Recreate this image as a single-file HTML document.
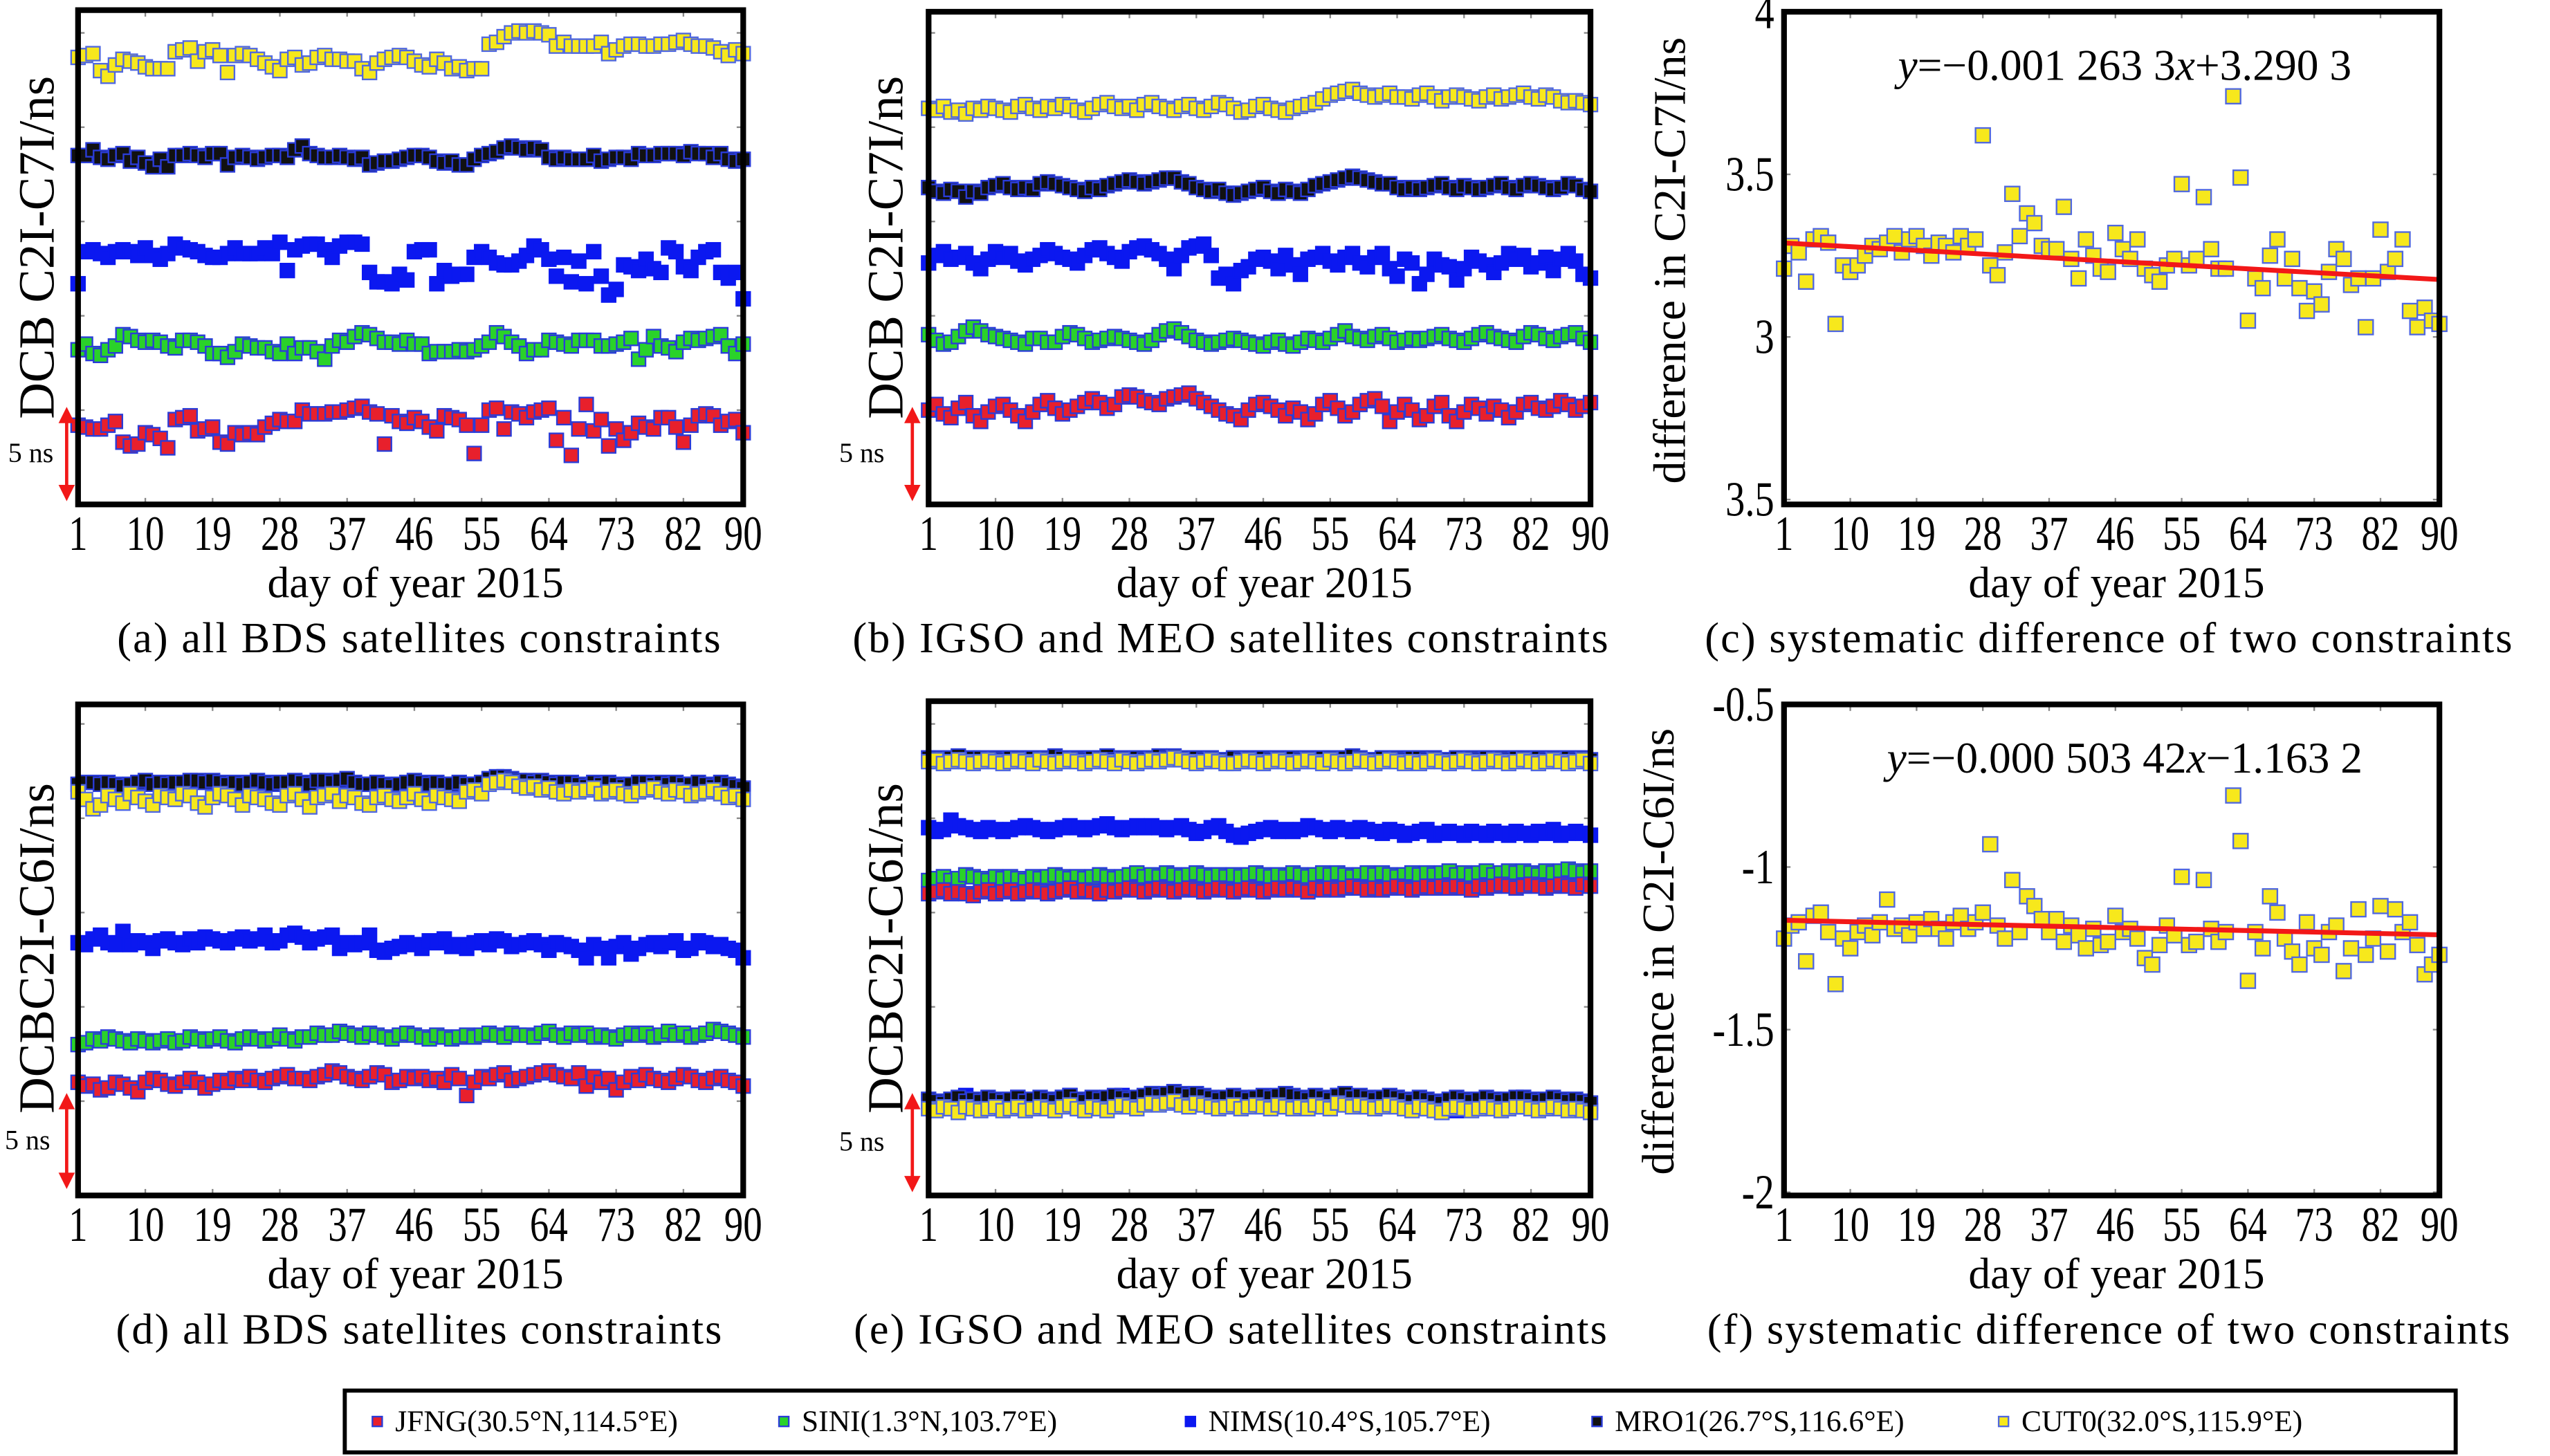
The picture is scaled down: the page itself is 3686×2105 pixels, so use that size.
<!DOCTYPE html>
<html><head><meta charset="utf-8"><style>
html,body{margin:0;padding:0;background:#fff}
svg{display:block}
text{font-family:"Liberation Serif",serif;fill:#000}
</style></head>
<body>
<svg id="fig" xmlns="http://www.w3.org/2000/svg" width="3686" height="2105" viewBox="0 0 1568 895">
<rect x="0" y="0" width="1568" height="895" fill="#fff"/>
<g id="root"></g>
</svg>
<script>
// ---------- data (DCB in units of 0.1 ns, day-of-year 1..90) ----------
const days = Array.from({length:90},(_,i)=>i+1);
const xTickLabels = [1,10,19,28,37,46,55,64,73,82,90];

const aYellow=[237,238,239,230,227,233,236,235,234,232,231,231,231,240,241,242,235,240,241,238,229,238,239,238,236,234,232,230,236,237,233,234,237,238,236,236,235,235,231,229,234,236,237,238,237,235,233,232,236,234,231,232,230,231,231,244,245,248,250,251,250,251,250,249,243,245,243,243,243,243,245,239,241,243,244,244,243,243,244,244,245,246,244,243,243,242,240,238,241,239];
const aBlack=[185,185,188,184,183,185,186,182,184,181,179,183,179,185,185,186,185,184,186,186,180,184,185,184,183,184,185,185,184,188,190,186,185,184,184,185,184,183,184,180,181,182,182,183,184,185,185,184,182,181,182,180,180,183,185,186,187,189,190,189,188,189,188,184,183,184,183,183,183,185,182,183,184,184,183,186,185,185,186,186,186,185,187,186,186,184,186,183,182,183];
const aBlue=[117,134,135,133,131,134,135,134,132,136,132,130,133,138,136,135,134,132,131,131,133,136,133,133,133,136,133,139,124,135,137,138,138,135,131,137,139,139,138,123,118,118,117,122,119,134,135,135,117,124,121,122,122,131,134,131,128,127,127,129,132,137,135,130,121,131,118,129,117,134,121,111,114,127,126,124,130,125,123,136,134,126,124,131,134,135,123,120,123,109];
const aGreen=[82,85,80,79,82,84,90,89,87,86,87,86,84,83,87,87,86,84,80,80,78,81,85,84,83,83,81,80,85,80,83,83,81,77,84,87,86,89,91,90,88,86,86,85,87,85,85,80,81,81,81,82,81,82,84,86,91,89,86,84,80,82,82,87,86,85,84,87,87,87,84,84,85,86,88,77,82,89,84,83,81,86,88,87,88,89,90,84,80,85];
const aRed=[42,41,40,40,42,44,33,31,32,38,37,35,30,45,46,47,39,40,41,33,32,38,37,38,37,41,43,45,44,44,50,48,48,48,49,49,50,51,52,49,48,32,47,44,43,46,44,41,39,47,46,45,42,27,42,50,51,40,49,48,46,49,50,51,34,46,26,40,53,39,45,31,40,34,38,43,41,40,46,46,41,33,42,47,48,47,42,44,45,38];

const bYellow=[210,209,211,208,209,207,210,209,211,210,209,208,211,212,210,209,211,210,212,211,209,208,210,212,213,211,210,211,209,212,213,211,210,209,211,212,210,209,211,213,212,210,208,209,211,212,210,209,208,210,211,212,213,215,217,218,219,220,218,217,216,217,218,216,216,215,217,218,216,214,216,217,216,215,214,216,217,215,216,217,218,216,215,217,216,214,213,214,213,212];
const bBlack=[168,166,165,167,166,163,166,165,168,169,170,168,167,168,167,170,171,170,169,168,167,166,168,167,169,170,171,172,171,170,171,172,173,173,171,170,168,167,166,167,165,164,165,166,167,168,166,165,167,166,165,167,169,170,171,172,173,174,173,172,171,170,170,168,167,168,167,168,169,170,168,167,169,168,167,168,169,170,168,167,169,170,169,168,167,168,170,169,167,166];
const bBlue=[128,132,134,130,131,133,128,125,130,134,131,133,129,127,130,132,135,133,131,130,128,132,135,136,133,131,129,134,136,137,135,133,130,125,132,136,137,138,132,120,122,117,124,126,130,131,129,125,132,127,122,130,131,133,129,127,131,133,128,126,131,133,125,121,130,128,117,122,130,127,126,119,125,131,129,127,123,128,133,130,132,126,128,131,124,130,133,129,122,120];
const bGreen=[90,87,85,86,89,92,94,92,90,89,88,87,86,85,88,88,86,86,89,91,90,88,86,87,88,89,88,87,86,85,87,90,92,93,91,89,87,86,85,86,87,88,87,86,85,84,86,87,85,84,86,88,87,86,88,90,92,89,88,87,89,90,88,86,87,88,87,88,89,90,88,87,86,88,90,91,89,88,87,86,89,91,90,88,87,89,90,91,88,86];
const bRed=[50,53,48,46,51,54,47,44,49,52,53,50,47,44,49,53,55,51,48,50,52,54,56,54,51,53,57,58,57,55,54,53,56,57,58,59,56,54,52,50,48,47,45,50,53,54,52,50,47,51,49,45,48,53,55,51,47,49,53,55,56,52,44,49,53,50,45,47,52,54,47,44,49,53,51,48,52,50,46,49,53,54,51,50,52,55,53,50,52,54];

const dYellow=[214,210,205,207,212,210,208,213,211,209,207,212,211,210,213,212,208,206,211,213,212,210,207,212,211,210,208,207,212,213,210,206,211,212,213,209,212,211,208,207,211,212,210,209,211,213,210,208,212,211,210,209,214,215,213,218,219,220,219,217,216,217,215,216,214,213,215,214,215,216,213,214,215,213,212,214,215,216,214,213,215,214,212,213,214,215,213,211,212,210];
const dBlack=[218,219,219,218,219,218,217,218,219,220,218,219,218,219,219,220,220,219,220,219,218,219,218,219,220,219,218,219,219,220,219,218,220,220,219,220,221,219,218,218,219,218,217,218,219,220,219,218,219,218,218,219,218,218,219,221,222,222,221,220,220,219,220,219,218,219,219,218,217,219,218,219,218,217,218,219,219,218,219,218,219,218,218,219,218,217,219,218,217,216];
const dBlue=[134,133,136,138,134,133,140,133,135,134,131,135,136,134,133,136,134,137,136,135,134,136,137,135,136,138,134,135,138,139,137,134,136,137,138,131,134,133,134,138,130,129,131,132,134,133,131,135,134,136,132,133,131,134,135,133,136,135,132,133,134,135,133,130,134,133,132,130,126,133,131,126,132,134,128,131,133,134,132,134,135,130,131,135,134,132,133,131,130,126];
const dGreen=[80,81,83,82,84,83,82,81,83,82,81,82,83,81,82,84,83,82,83,84,82,81,83,84,83,82,83,85,83,82,84,84,86,85,85,87,86,85,84,86,85,84,83,85,86,85,84,83,85,84,83,84,85,84,85,86,85,84,86,85,85,84,86,87,85,84,86,85,86,84,85,84,83,85,86,85,86,84,85,87,85,86,84,85,86,88,87,86,85,84];
const dRed=[60,58,59,56,57,60,59,57,55,60,62,61,59,58,60,62,60,57,59,61,60,62,61,63,61,60,62,63,64,62,62,61,63,64,66,65,63,62,61,63,65,64,60,61,63,62,63,61,62,60,64,62,53,60,63,62,64,65,61,62,63,64,65,66,64,63,62,65,58,63,60,62,56,60,63,61,64,62,61,60,62,64,63,61,60,62,63,61,60,58];

const eYellowTop=[230,231,229,230,231,230,229,230,231,230,229,230,231,230,229,231,230,229,230,231,230,229,230,231,230,229,231,230,229,230,231,230,231,232,231,230,229,230,231,230,229,229,230,231,230,229,230,231,230,229,230,231,230,229,231,230,229,230,231,230,229,230,231,230,229,230,229,230,231,230,229,230,231,230,229,230,231,230,229,230,231,230,229,230,231,230,229,230,231,229];
const eBlackTop=[232,232,231,232,233,231,232,232,231,232,231,232,232,231,232,231,232,233,232,231,232,231,232,232,233,231,232,231,232,231,232,233,232,233,232,231,232,231,232,231,231,232,231,232,231,232,231,232,231,232,231,232,231,232,232,231,232,233,232,231,231,232,231,232,231,232,232,231,232,231,231,232,231,232,231,232,231,232,231,232,232,231,232,231,232,231,232,231,232,231];
const eBlue=[195,193,194,199,196,195,194,193,195,194,193,194,195,196,195,194,193,194,195,196,195,194,195,196,197,195,194,195,196,195,196,195,194,195,196,194,192,193,195,196,193,191,190,192,193,194,195,193,194,193,194,196,195,194,193,195,194,193,195,194,193,192,194,193,191,192,193,194,191,192,193,192,191,193,192,191,193,192,191,193,192,191,193,192,194,191,192,193,192,191];
const eGreen=[167,168,169,167,168,170,169,168,167,169,168,169,168,167,169,168,169,170,169,168,169,168,169,170,169,168,169,170,171,169,170,169,171,170,169,170,171,170,169,170,169,170,169,170,171,170,169,170,169,171,170,169,170,171,170,171,170,169,170,171,170,171,170,169,170,171,170,171,170,171,172,170,171,170,171,172,170,171,172,171,172,171,170,172,171,172,173,172,171,172];
const eRed=[160,161,162,160,161,160,159,161,162,160,161,162,160,161,162,161,160,161,162,163,161,162,161,160,162,161,162,163,162,161,162,163,162,161,162,163,162,161,162,163,162,161,162,163,162,161,162,163,162,163,162,161,163,162,163,162,163,164,163,162,163,162,163,164,163,162,163,164,163,164,163,164,163,162,164,163,164,165,164,163,164,165,164,163,164,165,164,163,165,164];
const eBlueBot=[50,48,46,50,49,53,48,47,51,49,48,50,52,49,47,50,51,49,52,53,50,48,51,50,49,52,53,51,50,52,54,52,53,55,52,51,53,52,50,49,51,50,48,51,52,50,49,52,53,50,51,49,52,50,48,53,51,49,52,50,47,49,50,52,48,47,51,46,49,44,47,45,50,48,46,49,51,47,48,50,52,49,47,50,51,48,49,47,48,45];
const eBlackBot=[51,50,49,51,52,50,51,50,52,51,50,51,52,50,51,52,51,50,52,53,51,50,52,51,52,53,52,51,52,53,54,53,54,55,54,53,54,53,52,51,52,53,52,51,52,53,52,53,54,53,52,51,53,52,51,53,54,52,53,52,51,52,53,52,51,50,52,51,50,49,51,52,51,50,51,52,51,50,51,52,52,51,50,51,52,51,50,51,50,49];
const eYellowBot=[46,45,47,46,44,47,46,45,46,47,45,46,47,45,46,47,46,45,47,48,46,45,47,46,45,47,48,47,46,48,49,48,49,50,48,47,49,48,47,46,47,48,46,47,48,47,46,48,47,46,47,46,48,47,46,49,48,47,48,47,46,47,48,47,46,45,47,46,45,44,46,47,46,45,46,47,46,45,46,47,47,46,45,46,47,46,45,46,45,44];

const cDiff=[3.21,3.28,3.26,3.17,3.30,3.31,3.29,3.04,3.22,3.20,3.22,3.25,3.28,3.27,3.29,3.31,3.26,3.30,3.31,3.28,3.25,3.29,3.28,3.26,3.31,3.28,3.30,3.62,3.22,3.19,3.26,3.44,3.31,3.38,3.35,3.28,3.27,3.27,3.40,3.24,3.18,3.30,3.25,3.21,3.20,3.32,3.27,3.24,3.30,3.21,3.19,3.17,3.22,3.24,3.47,3.22,3.24,3.43,3.27,3.21,3.21,3.74,3.49,3.05,3.18,3.15,3.25,3.30,3.18,3.24,3.15,3.08,3.14,3.10,3.20,3.27,3.24,3.16,3.18,3.03,3.18,3.33,3.20,3.24,3.30,3.08,3.03,3.09,3.05,3.04];
const cTickValues=[4,3.5,3,2.5];
const cTickLabels=["4","3.5","3","3.5"];
const cFit=[-0.0012633,3.2903];

const fDiff=[-1.22,-1.18,-1.17,-1.29,-1.15,-1.14,-1.20,-1.36,-1.22,-1.25,-1.20,-1.18,-1.21,-1.17,-1.10,-1.19,-1.18,-1.21,-1.17,-1.19,-1.16,-1.19,-1.22,-1.17,-1.15,-1.19,-1.17,-1.14,-0.93,-1.18,-1.22,-1.04,-1.20,-1.09,-1.12,-1.16,-1.20,-1.16,-1.23,-1.18,-1.21,-1.25,-1.19,-1.24,-1.23,-1.15,-1.20,-1.19,-1.22,-1.28,-1.30,-1.24,-1.18,-1.21,-1.03,-1.24,-1.23,-1.04,-1.19,-1.23,-1.20,-0.78,-0.92,-1.35,-1.20,-1.25,-1.09,-1.14,-1.22,-1.26,-1.30,-1.17,-1.25,-1.27,-1.20,-1.18,-1.32,-1.25,-1.13,-1.27,-1.22,-1.12,-1.26,-1.13,-1.20,-1.17,-1.24,-1.33,-1.30,-1.27];
const fTickValues=[-0.5,-1,-1.5,-2];
const fTickLabels=["-0.5","-1","-1.5","-2"];
const fFit=[-0.00050342,-1.1632];

const legendLabels=["JFNG(30.5°N,114.5°E)","SINI(1.3°N,103.7°E)","NIMS(10.4°S,105.7°E)","MRO1(26.7°S,116.6°E)","CUT0(32.0°S,115.9°E)"];

// ---------- rendering ----------
const NS="http://www.w3.org/2000/svg";
const root=document.getElementById('root');
const STY={
  red:{fill:'#e8202c',stroke:'#2a3cd8'},
  green:{fill:'#2ad22a',stroke:'#2a3cd8'},
  blue:{fill:'#0b18f0',stroke:'#0b18f0'},
  black:{fill:'#111',stroke:'#2a3cd8'},
  yellow:{fill:'#f7e81c',stroke:'#5068e0'}
};
function el(tag,attrs,parent){const e=document.createElementNS(NS,tag);for(const k in attrs)e.setAttribute(k,attrs[k]);(parent||root).appendChild(e);return e;}
function txt(s,attrs,parent){const t=el('text',attrs,parent);t.textContent=s;return t;}

function marker(g,cx,cy,color,size){
  const s=size||8.5;
  const r=el('rect',{x:cx-s/2,y:cy-s/2,width:s,height:s,fill:STY[color].fill,stroke:STY[color].stroke,'stroke-width':1},g);
  
  
  return r;
}

function panel(p){
  const g=el('g',{});
  
  
  const L=p.x0,R=p.x1,T=p.y0,B=p.y1;
  const xs=d=>L+(d-1)/89*(R-L);
  const ys=p.ys;
  xTickLabels.forEach(d=>{
    const x=xs(d);
    el('line',{x1:x,x2:x,y1:B,y2:B-4,stroke:'#888','stroke-width':1},g);
    el('line',{x1:x,x2:x,y1:T,y2:T+4,stroke:'#888','stroke-width':1},g);
    const t=txt(String(d),{x:x,y:B+28,'font-size':30,'text-anchor':'middle',transform:`translate(${x} 0) scale(0.78 1) translate(${-x} 0)`},g);
    
    
  });
  (p.yTicks||[]).forEach((v,i)=>{
    const y=ys(v);
    el('line',{x1:L,x2:L+4,y1:y,y2:y,stroke:'#888','stroke-width':1},g);
    el('line',{x1:R,x2:R-4,y1:y,y2:y,stroke:'#888','stroke-width':1},g);
    if(p.yLabels){
      const tx=L-6;
      const t=txt(p.yLabels[i],{x:tx,y:y+10,'font-size':30,'text-anchor':'end',transform:`translate(${tx} 0) scale(0.8 1) translate(${-tx} 0)`},g);
      
      
    }
  });
  p.series.forEach(s=>{
    const sg=el('g',{},g);
    
    
    s.data.forEach((v,i)=>marker(sg,xs(days[i]),ys(v),s.color,s.size));
  });
  if(p.fit){
    const ln=el('line',{x1:xs(1),x2:xs(90),y1:ys(p.fit[0]*1+p.fit[1]),y2:ys(p.fit[0]*90+p.fit[1]),stroke:'#f21818','stroke-width':3},g);
    
    
  }
  const fr=el('rect',{x:L,y:T,width:R-L,height:B-T,fill:'none',stroke:'#000','stroke-width':3.5},g);
  
  
  if(p.eq){
    const t=el('text',{x:(L+R)/2+8,y:T+42,'font-size':27,'text-anchor':'middle'},g);
    t.innerHTML='<tspan font-style="italic">y</tspan>=−'+p.eq[0]+'<tspan font-style="italic">x</tspan>'+p.eq[1];
    
    
  }
  const xl=txt('day of year 2015',{x:(L+R)/2+3,y:B+57,'font-size':27,'text-anchor':'middle'},g);
  
  
  const yl=txt(p.ylabel,{x:0,y:0,'font-size':p.ylFont||28,'text-anchor':'middle',transform:`translate(${p.ylx} ${p.yly}) rotate(-90)`},g);
  
  
  const cap=txt(p.caption,{x:p.capx,y:B+91,'font-size':26.5,'text-anchor':'middle','letter-spacing':'0.9'},g);
  
  
  if(p.arrow){
    const a=p.arrow;
    const ag=el('g',{},g);
    
    
    el('line',{x1:a.x,x2:a.x,y1:a.y1+6,y2:a.y2-6,stroke:'#f21818','stroke-width':2},ag);
    el('polygon',{points:`${a.x-5},${a.y1+10} ${a.x},${a.y1} ${a.x+5},${a.y1+10}`,fill:'#f21818'},ag);
    el('polygon',{points:`${a.x-5},${a.y2-10} ${a.x},${a.y2} ${a.x+5},${a.y2-10}`,fill:'#f21818'},ag);
    txt('5 ns',{x:a.tx,y:(a.y1+a.y2)/2+5,'font-size':17},ag);
  }
}

const PX=11.6; // px per ns
function nsScale(B){return v=>B-(v/10)*PX;}
const nsTicks=[50,100,150,200,250];

panel({name:'panel-a',x0:48,x1:457,y0:6,y1:310,ys:nsScale(310),yTicks:nsTicks,
  ylabel:'DCB C2I-C7I/ns',ylx:33,yly:152,ylFont:31,caption:'(a) all BDS satellites constraints',capx:258,
  arrow:{x:41,y1:250,y2:308,tx:5},
  series:[{name:'cut0-series',color:'yellow',data:aYellow},{name:'mro1-series',color:'black',data:aBlack},{name:'nims-series',color:'blue',data:aBlue},{name:'sini-series',color:'green',data:aGreen},{name:'jfng-series',color:'red',data:aRed}]});
panel({name:'panel-b',x0:571,x1:978,y0:7,y1:310,ys:nsScale(310),yTicks:nsTicks,
  ylabel:'DCB C2I-C7I/ns',ylx:555,yly:152,ylFont:31,caption:'(b) IGSO and MEO satellites constraints',capx:757,
  arrow:{x:561,y1:250,y2:308,tx:516},
  series:[{name:'cut0-series',color:'yellow',data:bYellow},{name:'mro1-series',color:'black',data:bBlack},{name:'nims-series',color:'blue',data:bBlue},{name:'sini-series',color:'green',data:bGreen},{name:'jfng-series',color:'red',data:bRed}]});
panel({name:'panel-c',x0:1097,x1:1500,y0:7,y1:310,ys:v=>207-(v-3)*200,yTicks:cTickValues,yLabels:cTickLabels,
  ylabel:'difference in C2I-C7I/ns',ylx:1036,yly:160,ylFont:28,caption:'(c) systematic difference of two constraints',capx:1297,
  fit:cFit,eq:['0.001 263 3','+3.290 3'],
  series:[{name:'difference-series',color:'yellow',data:cDiff,size:9}]});
panel({name:'panel-d',x0:48,x1:457,y0:433,y1:735,ys:nsScale(735),yTicks:nsTicks,
  ylabel:'DCBC2I-C6I/ns',ylx:33,yly:583,ylFont:31,caption:'(d) all BDS satellites constraints',capx:258,
  arrow:{x:41,y1:672,y2:731,tx:3},
  series:[{name:'mro1-series',color:'black',data:dBlack},{name:'cut0-series',color:'yellow',data:dYellow},{name:'nims-series',color:'blue',data:dBlue},{name:'sini-series',color:'green',data:dGreen},{name:'jfng-series',color:'red',data:dRed}]});
panel({name:'panel-e',x0:571,x1:978,y0:431,y1:735,ys:nsScale(735),yTicks:nsTicks,
  ylabel:'DCBC2I-C6I/ns',ylx:555,yly:583,ylFont:31,caption:'(e) IGSO and MEO satellites constraints',capx:757,
  arrow:{x:561,y1:672,y2:733,tx:516},
  series:[{name:'mro1-top-series',color:'black',data:eBlackTop},{name:'cut0-top-series',color:'yellow',data:eYellowTop},{name:'nims-series',color:'blue',data:eBlue},{name:'sini-series',color:'green',data:eGreen},{name:'jfng-series',color:'red',data:eRed},{name:'nims-bottom-series',color:'blue',data:eBlueBot},{name:'mro1-bottom-series',color:'black',data:eBlackBot},{name:'cut0-bottom-series',color:'yellow',data:eYellowBot}]});
panel({name:'panel-f',x0:1097,x1:1500,y0:433,y1:735,ys:v=>533-(v+1)*200,yTicks:fTickValues,yLabels:fTickLabels,
  ylabel:'difference in C2I-C6I/ns',ylx:1029,yly:585,ylFont:28,caption:'(f) systematic difference of two constraints',capx:1297,
  fit:fFit,eq:['0.000 503 42','−1.163 2'],
  series:[{name:'difference-series',color:'yellow',data:fDiff,size:9}]});

// legend
const lg=el('g',{});


el('rect',{x:212,y:855,width:1298,height:38,fill:'#fff',stroke:'#000','stroke-width':2.5},lg);
const legColors=['red','green','blue','black','yellow'];
const legX=[232,482,732,982,1232];
legendLabels.forEach((s,i)=>{
  const eg=el('g',{},lg);
  
  
  marker(eg,legX[i],874,legColors[i],6);
  txt(s,{x:legX[i]+11,y:880,'font-size':18.5},eg);
});
</script>
</body></html>
